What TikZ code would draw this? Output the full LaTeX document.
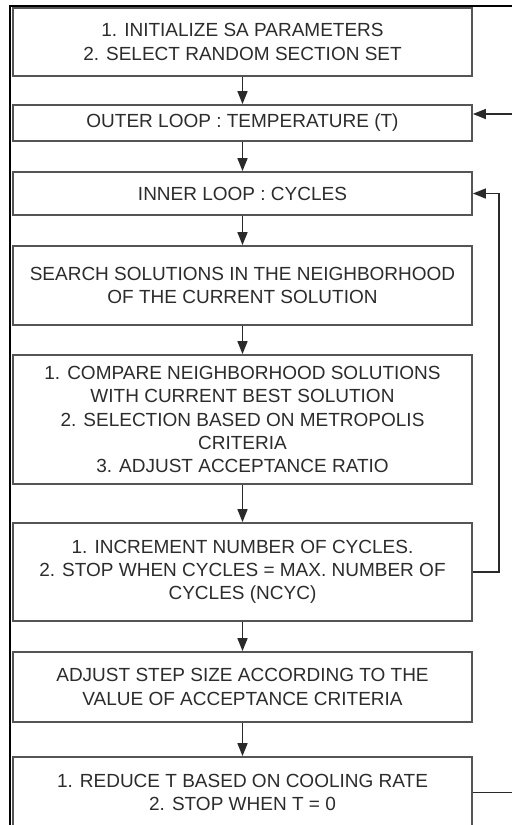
\documentclass[tikz,border=0pt]{standalone}
\usepackage{fontspec}
\setmainfont{Liberation Sans}
\usetikzlibrary{arrows.meta}
\definecolor{txtgray}{HTML}{2C2C2C}
\definecolor{boxgray}{HTML}{555555}
\definecolor{linegray}{HTML}{2A2A2A}
\begin{document}
\begin{tikzpicture}[x=1pt,y=-1pt,
  stepbox/.style={draw=boxgray, line width=1.7pt, fill=white, inner sep=0pt,
    minimum width=459pt, align=center, text=txtgray,
    font=\fontsize{19}{23.3}\selectfont},
  arr/.style={draw=linegray, line width=1.4pt, -{Triangle[length=13pt,width=10pt]}},
  plain/.style={draw=linegray, line width=1.4pt}]
\useasboundingbox (0,0) rectangle (512,825);
\clip (0,0) rectangle (512,825);
\fill[white] (0,0) rectangle (512,825);

% outer frame
\draw[black, line width=2.4pt] (10,825) -- (10,6) -- (512,6);

% process steps
\node[stepbox, minimum height=68pt] (b1) at (242.5,42)
  {1. INITIALIZE SA PARAMETERS\\2. SELECT RANDOM SECTION SET};
\node[stepbox, minimum height=36pt] (b2) at (242.5,123)
  {OUTER LOOP : TEMPERATURE (T)};
\node[stepbox, minimum height=43pt] (b3) at (242.5,193.5)
  {INNER LOOP : CYCLES};
\node[stepbox, minimum height=79pt] (b4) at (242.5,285.5)
  {SEARCH SOLUTIONS IN THE NEIGHBORHOOD\\OF THE CURRENT SOLUTION};
\node[stepbox, minimum height=129pt] (b5) at (242.5,419.5)
  {1. COMPARE NEIGHBORHOOD SOLUTIONS\\WITH CURRENT BEST SOLUTION\\2. SELECTION BASED ON METROPOLIS\\CRITERIA\\3. ADJUST ACCEPTANCE RATIO};
\node[stepbox, minimum height=98pt] (b6) at (242.5,572)
  {1. INCREMENT NUMBER OF CYCLES.\\2. STOP WHEN CYCLES = MAX. NUMBER OF\\CYCLES (NCYC)};
\node[stepbox, minimum height=70pt] (b7) at (242.5,687)
  {ADJUST STEP SIZE ACCORDING TO THE\\VALUE OF ACCEPTANCE CRITERIA};
\node[stepbox, minimum height=71pt] (b8) at (242.5,792.5)
  {1. REDUCE T BASED ON COOLING RATE\\2. STOP WHEN T = 0};

% main flow
\draw[arr] (b1) -- (b2);
\draw[arr] (b2) -- (b3);
\draw[arr] (b3) -- (b4);
\draw[arr] (b4) -- (b5);
\draw[arr] (b5) -- (b6);
\draw[arr] (b6) -- (b7);
\draw[arr] (b7) -- (b8);

% inner loop back to cycles
\coordinate (inx) at (499,0);
\draw[arr] (b6.east) -- (b6.east -| inx) |- (b3.east);

% outer loop back to temperature
\coordinate (outlow) at (512,792.5);
\coordinate (outhigh) at (512,114);
\draw[plain] (b8.east) -- (outlow);
\draw[arr] (outhigh) -- (b2.east |- outhigh);
\end{tikzpicture}
\end{document}
